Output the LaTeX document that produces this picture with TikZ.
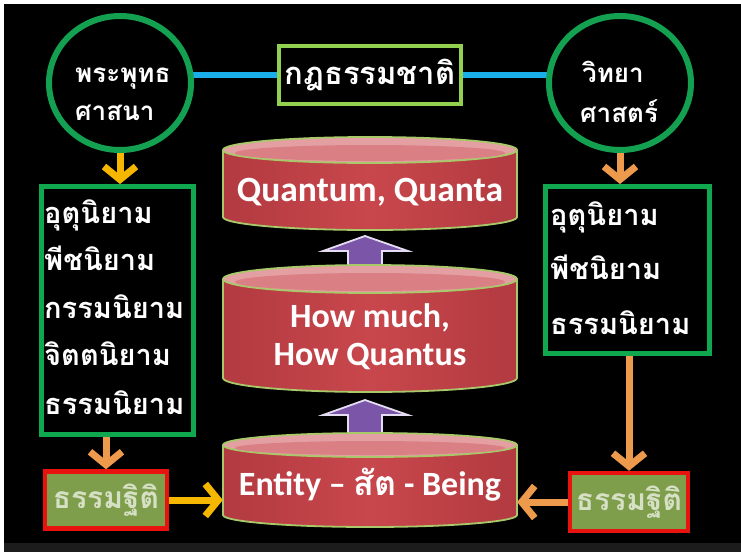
\documentclass[tikz,border=0pt]{standalone}
\usepackage{fontspec}
\setmainfont{Carlito}
\newfontfamily\thaifont[Script=Thai]{Loma}
\usetikzlibrary{arrows.meta,shapes.geometric}
\definecolor{circgreen}{HTML}{13A050}
\definecolor{boxgreen}{HTML}{10A84E}
\definecolor{limeg}{HTML}{92D050}
\definecolor{linkblue}{HTML}{1AAEEA}
\definecolor{goldar}{HTML}{F5B700}
\definecolor{orangear}{HTML}{EE9A4C}
\definecolor{cylred}{HTML}{C8474C}
\definecolor{cyldark}{HTML}{B23A40}
\definecolor{cyltop}{HTML}{E49FA2}
\definecolor{cylrim}{HTML}{A9C86A}
\definecolor{olivebox}{HTML}{7E9E4C}
\definecolor{redrim}{HTML}{E8120E}
\definecolor{paletext}{HTML}{D6E0C4}
\definecolor{uparrow}{HTML}{7A55A8}
\definecolor{uparrowrim}{HTML}{E4DDF2}
\definecolor{bandgray}{HTML}{1C1C1C}
\newcommand\mycyl[6]{%
  \shade[left color=cyldark, right color=cyldark, middle color=cylred]
    (#2-147,#3) -- (#2-147,#4) arc[start angle=180,end angle=360,x radius=147pt,y radius=#5pt] -- (#2+147,#3) -- cycle;
  \draw[cylrim, line width=1.8pt]
    (#2-147,#3) -- (#2-147,#4) arc[start angle=180,end angle=360,x radius=147pt,y radius=#5pt] -- (#2+147,#3);
  \draw[cylrim, line width=1.8pt, fill=cyltop] (#2,#3) ellipse[x radius=147pt, y radius=#5pt];
  \fill[cylred!35!cyltop] (#2,#3+3) ellipse[x radius=135pt, y radius=#5pt-5pt];
}
\begin{document}
\begin{tikzpicture}[x=1pt,y=-1pt,
  circ/.style={ellipse, draw=circgreen, line width=6pt, minimum width=142pt, minimum height=134pt, inner sep=0pt},
  circtxt/.style={font=\thaifont\bfseries\fontsize{26}{39}\selectfont, text=white, align=left, inner sep=0pt},
  gbox/.style={draw=boxgreen, line width=4.5pt, fill=black, inner sep=0pt, anchor=north west},
  thaiw/.style={font=\thaifont\bfseries\fontsize{29}{30}\selectfont, text=white, anchor=base west, inner sep=0pt},
  rbox/.style={draw=redrim, line width=4.5pt, fill=olivebox, inner sep=0pt, font=\thaifont\bfseries\fontsize{30}{32}\selectfont, text=paletext},
  cyltxt/.style={minimum width=294pt, inner sep=0pt, font=\bfseries\fontsize{34}{38}\selectfont, text=white, align=center},
  goldarrow/.style={draw=goldar, line width=7pt, -{Straight Barb[length=13pt,width=32pt]}},
  orangearrow/.style={draw=orangear, line width=7pt, -{Straight Barb[length=13pt,width=32pt]}},
  uparr/.style={fill=uparrow, draw=uparrowrim, line width=1.8pt, line join=miter}
]
\useasboundingbox (0,0) rectangle (741,552);
\fill[white] (0,0) rectangle (741,552);
\fill[black] (4,4) rectangle (741,543);
\fill[bandgray] (4,543) rectangle (741,552);

% top row
\node[draw=limeg, line width=4.5pt, fill=black, minimum width=182pt, minimum height=58pt, inner sep=0pt,
      font=\thaifont\bfseries\fontsize{31}{34}\selectfont, text=white] (law) at (370,75) {กฎธรรมชาติ};
\draw[linkblue, line width=6pt] (190,75) -- (law.west);
\draw[linkblue, line width=6pt] (law.east) -- (552,75);
\node[circ] (bud) at (120,83) {};
\node[circ] (sci) at (620,83) {};
\node[circtxt, anchor=base west] (budt1) at (75,82) {พระพุทธ};
\node[circtxt, anchor=base west] (budt2) at (75,120) {ศาสนา};
\node[circtxt, anchor=base west] (scit1) at (582,82) {วิทยา};
\node[circtxt, anchor=base west] (scit2) at (580,122) {ศาสตร์};

% side boxes
\node[gbox, minimum width=152pt, minimum height=248pt] (lbox) at (39,184) {};
\node[thaiw] (l1) at (44,223) {อุตุนิยาม};
\node[thaiw] (l2) at (44,270) {พีชนิยาม};
\node[thaiw] (l3) at (44,318) {กรรมนิยาม};
\node[thaiw] (l4) at (44,365) {จิตตนิยาม};
\node[thaiw] (l5) at (44,414) {ธรรมนิยาม};

\node[gbox, minimum width=164pt, minimum height=167pt] (rbox) at (543,184) {};
\node[thaiw] (r1) at (550,225) {อุตุนิยาม};
\node[thaiw] (r2) at (550,279) {พีชนิยาม};
\node[thaiw] (r3) at (550,334) {ธรรมนิยาม};

% up arrows
\draw[uparr] (365,236) -- (408,251) -- (382,251) -- (382,272) -- (348,272) -- (348,251) -- (323,251) -- cycle;
\draw[uparr] (365,400) -- (408,415) -- (382,415) -- (382,436) -- (348,436) -- (348,415) -- (323,415) -- cycle;

% cylinders
\mycyl{c1}{370}{150}{217}{13}{}
\mycyl{c2}{370}{279}{378}{14}{}
\mycyl{c3}{370}{445}{515}{12}{}
\node[cyltxt, font=\bfseries\fontsize{35.5}{38}\selectfont] (c1) at (370,192) {Quantum, Quanta};
\node[cyltxt] (c2) at (370,337) {How much,\\How Quantus};
\node[cyltxt] (c3) at (370,485) {Entity – {\thaifont สัต} - Being};

% bottom boxes
\node[rbox, minimum width=122pt, minimum height=57pt] (lst) at (106,500) {ธรรมฐิติ};
\node[rbox, minimum width=118pt, minimum height=58pt] (rst) at (629,502) {ธรรมฐิติ};

% connectors
\draw[goldarrow] (bud.south) -- (bud.south |- lbox.north);
\draw[orangearrow] (sci.south) -- (sci.south |- rbox.north);
\draw[orangearrow] (lst.north |- lbox.south) -- (lst.north);
\draw[orangearrow] (rst.north |- rbox.south) -- (rst.north);
\draw[goldarrow] (lst.east) -- (c3.west |- lst.east);
\draw[orangearrow] (rst.west) -- (c3.east |- rst.west);
\end{tikzpicture}
\end{document}
